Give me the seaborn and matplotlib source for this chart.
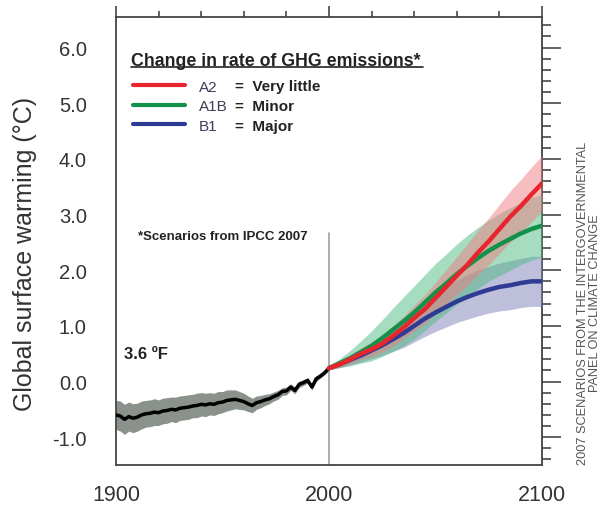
import numpy as np
import pandas as pd
import matplotlib
matplotlib.use('Agg')
import matplotlib.pyplot as plt
from matplotlib.ticker import MultipleLocator, FormatStrFormatter
from matplotlib.lines import Line2D
import seaborn as sns

# Datos historicos (cada 2 años, 1900-2000)
hist_years = list(range(1900, 2001, 2))
hist_mean = [-0.60, -0.62, -0.68, -0.63, -0.66, -0.64, -0.60, -0.58, -0.57, -0.55,
             -0.56, -0.53, -0.52, -0.50, -0.51, -0.48, -0.47, -0.46, -0.44, -0.43,
             -0.41, -0.42, -0.40, -0.41, -0.38, -0.37, -0.34, -0.33, -0.32, -0.34,
             -0.36, -0.40, -0.43, -0.38, -0.36, -0.33, -0.31, -0.27, -0.24, -0.18,
             -0.17, -0.10, -0.16, -0.05, -0.02, 0.02, -0.10, 0.05, 0.10, 0.16, 0.24]
hist_err = [0.26, 0.27, 0.27, 0.26, 0.26, 0.25, 0.25, 0.24, 0.24, 0.24, 0.23,
            0.23, 0.23, 0.22, 0.23, 0.22, 0.22, 0.22, 0.21, 0.22, 0.21,
            0.21, 0.20, 0.20, 0.20, 0.19, 0.19, 0.18, 0.17, 0.16, 0.15,
            0.14, 0.13, 0.12, 0.11, 0.10, 0.09, 0.08, 0.08, 0.07, 0.07,
            0.06, 0.06, 0.06, 0.05, 0.05, 0.05, 0.05, 0.04, 0.04, 0.04]

# Escenarios (cada 5 años, 2000-2100)
proj_years = list(range(2000, 2101, 5))
a2_mean = [0.24, 0.31, 0.40, 0.50, 0.58, 0.68, 0.82, 0.97, 1.14, 1.30, 1.50,
           1.70, 1.90, 2.10, 2.32, 2.52, 2.74, 2.96, 3.15, 3.36, 3.56]
a2_err = [0.03, 0.05, 0.08, 0.10, 0.13, 0.15, 0.18, 0.20, 0.23, 0.26, 0.28,
          0.31, 0.34, 0.37, 0.40, 0.42, 0.44, 0.46, 0.48, 0.49, 0.50]
a1b_mean = [0.24, 0.33, 0.42, 0.53, 0.64, 0.78, 0.93, 1.08, 1.24, 1.42, 1.60,
            1.76, 1.93, 2.08, 2.22, 2.35, 2.46, 2.56, 2.66, 2.74, 2.80]
a1b_err = [0.03, 0.08, 0.14, 0.20, 0.27, 0.33, 0.39, 0.44, 0.48, 0.50, 0.52,
           0.53, 0.54, 0.55, 0.55, 0.55, 0.56, 0.56, 0.56, 0.56, 0.56]
b1_mean = [0.24, 0.31, 0.39, 0.47, 0.56, 0.65, 0.76, 0.87, 1.00, 1.13, 1.24,
           1.34, 1.44, 1.52, 1.59, 1.65, 1.70, 1.73, 1.77, 1.80, 1.80]
b1_err = [0.03, 0.06, 0.09, 0.12, 0.15, 0.18, 0.22, 0.26, 0.29, 0.32, 0.34,
          0.36, 0.38, 0.40, 0.41, 0.42, 0.43, 0.44, 0.44, 0.45, 0.45]

escenarios = ['A2', 'A1B', 'B1']
descripciones = ['=  Very little', '=  Minor', '=  Major']
colores = {'A2': '#e8252c', 'A1B': '#13914a', 'B1': '#2d3b94'}
colores_banda = {'A2': '#ef7e82', 'A1B': '#4fbb80', 'B1': '#7d80b8'}

proj = pd.DataFrame({
    'Year': proj_years * 3,
    'Warming': a2_mean + a1b_mean + b1_mean,
    'Err': a2_err + a1b_err + b1_err,
    'Scenario': ['A2'] * 21 + ['A1B'] * 21 + ['B1'] * 21,
})

sns.set_style('white')
plt.rcParams['font.family'] = ['Liberation Sans', 'DejaVu Sans']

fig = plt.figure(figsize=(6.01, 5.06), dpi=100)
ax = fig.add_axes([116 / 601, 40 / 506, 426 / 601, 448 / 506])

# Linea vertical del año 2000
ax.axvline(2000, ymin=0, ymax=(2.66 + 1.5) / 8.05, color='#a0a0a0', lw=1.2, zorder=1)

# Bandas de incertidumbre
ax.fill_between(hist_years, np.array(hist_mean) - hist_err, np.array(hist_mean) + hist_err,
                color='#8a928b', lw=0, zorder=2)
for esc in ['B1', 'A1B', 'A2']:
    d = proj[proj['Scenario'] == esc]
    ax.fill_between(d['Year'], d['Warming'] - d['Err'], d['Warming'] + d['Err'],
                    color=colores_banda[esc], alpha=0.5, lw=0, zorder=3)

sns.lineplot(x=hist_years, y=hist_mean, color='black', linewidth=2.5, ax=ax, zorder=4)
sns.lineplot(data=proj, x='Year', y='Warming', hue='Scenario', hue_order=['B1', 'A1B', 'A2'],
             palette=colores, linewidth=3.2, legend=False, ax=ax, zorder=5)

ax.set_xlim(1900, 2100)
ax.set_ylim(-1.5, 6.55)
ax.set_xticks([1900, 2000, 2100])
ax.xaxis.set_minor_locator(MultipleLocator(20))
ax.yaxis.set_minor_locator(MultipleLocator(0.2))
ax.set_yticks(np.arange(-1, 6.01, 1.0))
ax.yaxis.set_major_formatter(FormatStrFormatter('%.1f'))

tick_col = '#555555'
ax.tick_params(axis='both', which='both', direction='out', top=True, right=True,
               colors=tick_col, width=1.3, labelcolor='#333333')
ax.tick_params(axis='y', which='major', length=14, pad=7, labelsize=14.5)
ax.tick_params(axis='y', which='minor', length=6.5)
ax.tick_params(axis='x', which='major', length=8, pad=6, labelsize=15.5)
ax.tick_params(axis='x', which='minor', length=4)
for s in ax.spines.values():
    s.set_color('#444444')
    s.set_linewidth(1.3)

ax.set_xlabel('')
ax.set_ylabel('Global surface warming (°C)', fontsize=18, color='#333333')
ax.yaxis.set_label_coords(-0.185, 0.473)

# Leyenda
handles = [Line2D([], [], color=colores[e], lw=3) for e in escenarios]
leg = ax.legend(handles, escenarios, loc='upper left', bbox_to_anchor=(0.025, 0.874),
                frameon=False, fontsize=11, handlelength=3.4, handletextpad=0.95,
                labelspacing=0.36, borderaxespad=0)
for t in leg.get_texts():
    t.set_color('#3d3d5c')
ax.text(0.035, 0.9025, 'Change in rate of GHG emissions*', transform=ax.transAxes,
        fontsize=12.8, fontweight='bold', color='#222222', va='center')
ax.plot([0.035, 0.7207], [0.888, 0.888], transform=ax.transAxes, color='#222222', lw=1.2)
for i, desc in enumerate(descripciones):
    ax.text(0.279, 0.846 - i * 0.0446, desc, transform=ax.transAxes, fontsize=11,
            fontweight='bold', color='#222222', va='center')

ax.text(0.052, 0.512, '*Scenarios from IPCC 2007', transform=ax.transAxes,
        fontsize=9.5, fontweight='bold', color='#222222', va='center')
ax.text(0.019, 0.248, '3.6 ºF', transform=ax.transAxes,
        fontsize=12, fontweight='bold', color='#222222', va='center')

fig.text(589 / 601, 1 - 465 / 506,
         '2007 SCENARIOS FROM THE INTERGOVERNMENTAL\nPANEL ON CLIMATE CHANGE',
         rotation=90, fontsize=9.2, color='#555555', ha='center', va='bottom',
         linespacing=0.9)

plt.savefig('out.png', dpi=100)
